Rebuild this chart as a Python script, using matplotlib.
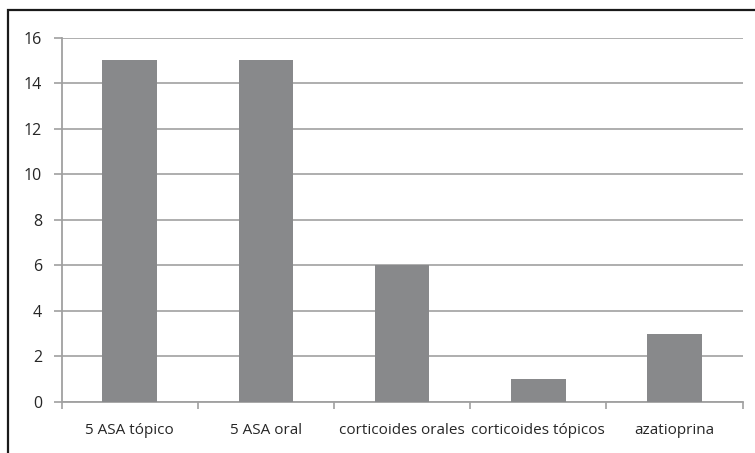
import matplotlib
matplotlib.use("Agg")
import matplotlib.pyplot as plt
from matplotlib.patches import Rectangle

categories = ["5 ASA tópico", "5 ASA oral", "corticoides orales",
              "corticoides tópicos", "azatioprina"]
values = [15, 15, 6, 1, 3]
yticks = [0, 2, 4, 6, 8, 10, 12, 14, 16]

plt.rcParams["font.family"] = ["Open Sans", "DejaVu Sans"]

W, H = 755, 453
fig = plt.figure(figsize=(W / 100, H / 100), dpi=100)
fig.patch.set_facecolor("white")

# outer frame (continues past right and bottom edges)
fig.add_artist(Rectangle((8 / W, -0.1), 1.2, 1 - 10 / H + 0.1,
                         transform=fig.transFigure, fill=False,
                         edgecolor="#1a1a1a", linewidth=1.6))

left, right = 61.5 / W, 742.7 / W
top, bottom = 1 - 37.5 / H, 1 - 402 / H
ax = fig.add_axes([left, bottom, right - left, top - bottom])

x = list(range(len(categories)))
ax.bar(x, values, width=0.4, color="#88898b", edgecolor="none", zorder=3)

ax.set_xlim(-0.5, len(categories) - 0.5)
ax.set_ylim(0, 16)
ax.set_yticks(yticks)
ax.set_yticklabels([str(v) for v in yticks])
ax.yaxis.grid(True, color="#a8a8a8", linewidth=1.3, zorder=0)
ax.set_axisbelow(True)

# category labels centred under bars, tick marks at boundaries
ax.set_xticks(x)
ax.set_xticklabels(categories)
ax.tick_params(axis="x", which="major", length=0, pad=15, labelsize=11)
ax.set_xticks([i - 0.5 for i in range(len(categories) + 1)], minor=True)
ax.tick_params(axis="x", which="minor", length=5, width=1.2, color="#a0a0a0")
ax.tick_params(axis="y", length=6, width=1.2, color="#a0a0a0", pad=8,
               labelsize=11.5)
ax.tick_params(labelcolor="#262626")

for s in ["top", "right"]:
    ax.spines[s].set_visible(False)
for s in ["left", "bottom"]:
    ax.spines[s].set_color("#a0a0a0")
    ax.spines[s].set_linewidth(1.3)

fig.savefig("out.png", dpi=100)
